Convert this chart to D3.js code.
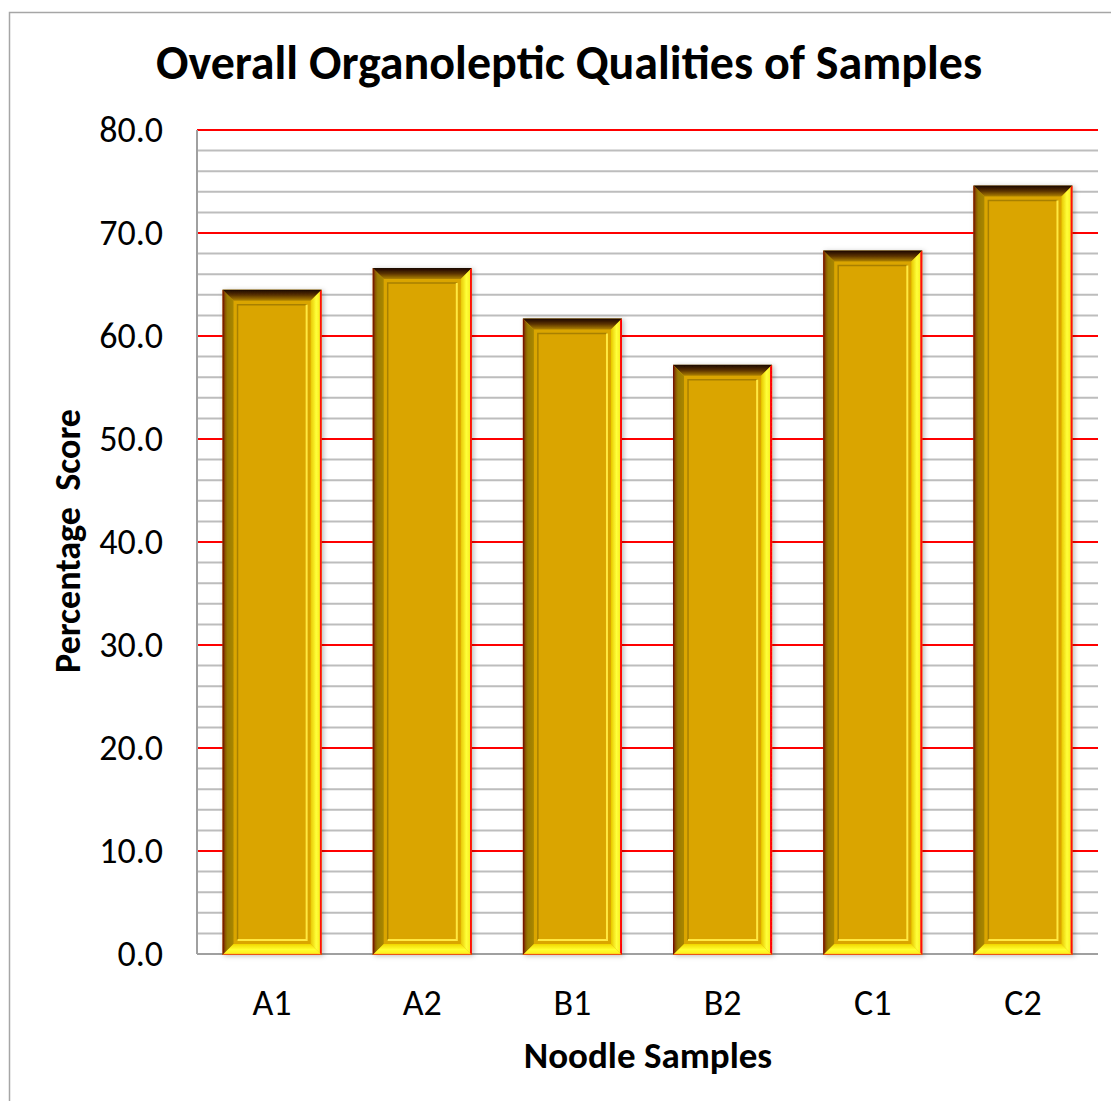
<!DOCTYPE html>
<html>
<head>
<meta charset="utf-8">
<script src="https://cdn.jsdelivr.net/npm/d3@7"></script>
<style>
  body { margin: 0; background: #fff; }
  text { font-family: Carlito, Lato, "Noto Sans", sans-serif; fill: #000; }
</style>
</head>
<body>
<svg id="chart" width="1111" height="1101"></svg>
<script>
const samples = ['A1', 'A2', 'B1', 'B2', 'C1', 'C2'];
const scores = [64.5, 66.6, 61.7, 57.2, 68.3, 74.6];
const majorTicks = [0, 10, 20, 30, 40, 50, 60, 70, 80];
const minorTicks = d3.range(2, 80, 2).filter(d => d % 10 !== 0);

const margin = {top: 130, right: 13, bottom: 147, left: 197};
const width = 1111, height = 1101;

const svg = d3.select('#chart');

// outer chart border
svg.append('rect')
  .attr('x', 9.5).attr('y', 12.5)
  .attr('width', 1130).attr('height', 1120)
  .attr('fill', 'none').attr('stroke', '#a6a6a6').attr('stroke-width', 1.5);

const x = d3.scaleBand().domain(samples)
  .range([margin.left, width - margin.right])
  .paddingInner(0.34).paddingOuter(0.17);
const y = d3.scaleLinear().domain([0, 80]).range([height - margin.bottom, margin.top]);

const defs = svg.append('defs');
function grad(id, x2, y2, stops) {
  const g = defs.append('linearGradient').attr('id', id)
    .attr('x1', 0).attr('y1', 0).attr('x2', x2).attr('y2', y2);
  stops.forEach(s => g.append('stop').attr('offset', s[0]).attr('stop-color', s[1]));
}
grad('gTop', 0, 1, [[0, '#1a0400'], [0.5, '#5a3200'], [1, '#b08400']]);
grad('gLeft', 1, 0, [[0, '#6e0000'], [0.25, '#8a5a00'], [0.45, '#9a7a00'], [1, '#a88600']]);
grad('gRight', 1, 0, [[0, '#e8c800'], [0.5, '#ffff3a'], [0.8, '#f8f020'], [0.85, '#ff1010'], [1, '#ff0000']]);
grad('gBottom', 0, 1, [[0, '#f2d600'], [0.5, '#ffff30'], [0.85, '#fff020'], [1, '#e01010']]);

const shadow = defs.append('filter').attr('id', 'shadow')
  .attr('x', '-10%').attr('y', '-10%').attr('width', '130%').attr('height', '130%');
shadow.append('feDropShadow').attr('dx', 2).attr('dy', 1).attr('stdDeviation', 2.5)
  .attr('flood-color', '#000').attr('flood-opacity', 0.25);

// gridlines
svg.append('g').selectAll('line').data(minorTicks).join('line')
  .attr('x1', margin.left).attr('x2', width - margin.right)
  .attr('y1', d => y(d)).attr('y2', d => y(d))
  .attr('stroke', '#bdbdbd').attr('stroke-width', 2);
svg.append('g').selectAll('line').data(majorTicks.filter(d => d > 0)).join('line')
  .attr('x1', margin.left).attr('x2', width - margin.right)
  .attr('y1', d => y(d)).attr('y2', d => y(d))
  .attr('stroke', '#ff0000').attr('stroke-width', 2);

// axes lines
svg.append('line')
  .attr('x1', margin.left).attr('x2', margin.left)
  .attr('y1', y(80)).attr('y2', y(0))
  .attr('stroke', '#a0a0a0').attr('stroke-width', 2);
svg.append('line')
  .attr('x1', margin.left).attr('x2', width - margin.right)
  .attr('y1', y(0)).attr('y2', y(0))
  .attr('stroke', '#a0a0a0').attr('stroke-width', 2);

// bars with bevel
const b = 11;
const bars = svg.append('g').selectAll('g').data(samples).join('g')
  .attr('filter', 'url(#shadow)');
bars.each(function (s, i) {
  const g = d3.select(this);
  const x0 = x(s), w = x.bandwidth();
  const y0 = y(scores[i]), y1 = y(0) + 1, h = y1 - y0;
  g.append('rect').attr('x', x0).attr('y', y0).attr('width', w).attr('height', h).attr('fill', '#daa500');
  g.append('polygon').attr('fill', 'url(#gTop)')
    .attr('points', [[x0, y0], [x0 + w, y0], [x0 + w - b, y0 + b], [x0 + b, y0 + b]].join(' '));
  g.append('polygon').attr('fill', 'url(#gLeft)')
    .attr('points', [[x0, y0], [x0 + b, y0 + b], [x0 + b, y1 - b], [x0, y1]].join(' '));
  g.append('polygon').attr('fill', 'url(#gRight)')
    .attr('points', [[x0 + w, y0], [x0 + w, y1], [x0 + w - b, y1 - b], [x0 + w - b, y0 + b]].join(' '));
  g.append('polygon').attr('fill', 'url(#gBottom)')
    .attr('points', [[x0, y1], [x0 + w, y1], [x0 + w - b, y1 - b], [x0 + b, y1 - b]].join(' '));
  // inner frame
  const ins = 15;
  g.append('path').attr('fill', 'none').attr('stroke', '#a88000').attr('stroke-width', 1.5)
    .attr('d', `M${x0 + ins},${y1 - ins} V${y0 + ins} H${x0 + w - ins}`);
  g.append('path').attr('fill', 'none').attr('stroke', '#ffe840').attr('stroke-width', 2)
    .attr('d', `M${x0 + w - ins},${y0 + ins} V${y1 - ins} H${x0 + ins}`);
});

// y tick labels
svg.append('g').selectAll('text').data(majorTicks).join('text')
  .attr('x', 163).attr('y', d => y(d) + 12)
  .attr('text-anchor', 'end').attr('font-size', 36)
  .text(d => d.toFixed(1));

// x tick labels
svg.append('g').selectAll('text').data(samples).join('text')
  .attr('x', d => x(d) + x.bandwidth() / 2).attr('y', 1015)
  .attr('text-anchor', 'middle').attr('font-size', 36)
  .text(d => d);

// titles
svg.append('text').attr('x', 569).attr('y', 79)
  .attr('text-anchor', 'middle').attr('font-size', 48).attr('font-weight', 'bold')
  .text('Overall Organoleptic Qualities of Samples');
svg.append('text').attr('x', 648).attr('y', 1068)
  .attr('text-anchor', 'middle').attr('font-size', 37).attr('font-weight', 'bold')
  .text('Noodle Samples');
svg.append('text')
  .attr('transform', 'translate(80,541) rotate(-90)')
  .attr('text-anchor', 'middle').attr('font-size', 36).attr('font-weight', 'bold')
  .style('white-space', 'pre')
  .text('Percentage  Score');
</script>
</body>
</html>
